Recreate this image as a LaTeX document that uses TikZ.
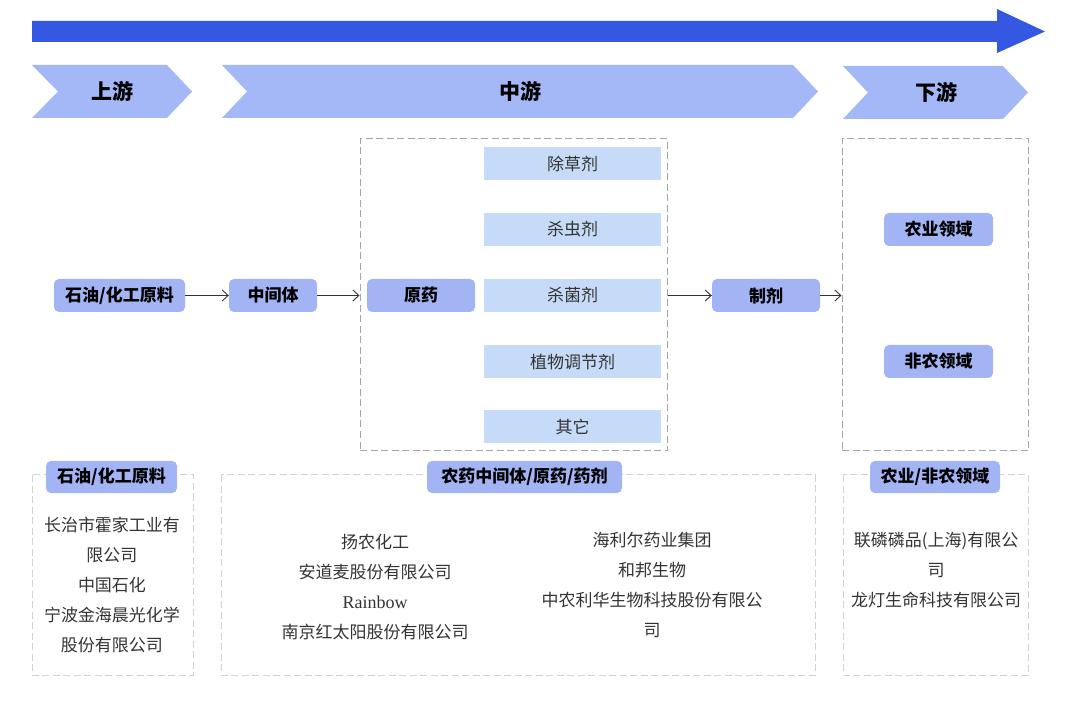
\documentclass[tikz,border=0pt]{standalone}
\usepackage{fontspec}
\usepackage{tikz}
\usetikzlibrary{arrows.meta,positioning,shapes,calc}
\newfontfamily\cjk{Noto Sans CJK SC}
\newfontfamily\tms{Liberation Serif}
\definecolor{barblue}{HTML}{3558E2}
\definecolor{chevblue}{HTML}{A4B7F6}
\definecolor{nodeblue}{HTML}{A3B4F4}
\definecolor{catblue}{HTML}{C6DBF7}
\definecolor{txtgray}{HTML}{333333}
\tikzset{
  stage/.style={fill=nodeblue, rounded corners=5pt, minimum height=33pt, inner sep=0pt,
    font=\cjk\bfseries\fontsize{17}{19}\selectfont, text=black},
  catbox/.style={fill=catblue, minimum width=177pt, minimum height=33pt, inner sep=0pt,
    font=\cjk\fontsize{17}{19}\selectfont, text=txtgray},
  groupbox/.style={draw=gray!70, dash pattern=on 7pt off 3.5pt, line width=1pt, inner sep=0pt},
  listbox/.style={draw=gray!35, dash pattern=on 7pt off 3.5pt, line width=1pt},
  listtext/.style={align=center, font=\cjk\fontsize{17}{30}\selectfont, text=txtgray},
  flow/.style={draw=black!80, line width=0.9pt, -{Straight Barb[length=6pt,width=11pt]}}
}
\begin{document}
\begin{tikzpicture}[x=1pt,y=-1pt]
\useasboundingbox (0,0) rectangle (1080,711);

% Direction arrow
\fill[barblue] (32,21) -- (997,21) -- (997,9) -- (1045,31.5) -- (997,53) -- (997,42) -- (32,42) -- cycle;

% Chevrons
\fill[chevblue] (32,65) -- (167,65) -- (192,91.5) -- (167,118) -- (32,118) -- (58,91.5) -- cycle;
\fill[chevblue] (222,65) -- (793,65) -- (818,91.5) -- (793,118) -- (222,118) -- (247,91.5) -- cycle;
\fill[chevblue] (843,66) -- (1003,66) -- (1028,92.5) -- (1003,119) -- (843,119) -- (868,92.5) -- cycle;
\node[font=\cjk\bfseries\fontsize{21}{23}\selectfont] (up) at (112,91.5) {上游};
\node[font=\cjk\bfseries\fontsize{21}{23}\selectfont] (middle) at (520,91.5) {中游};
\node[font=\cjk\bfseries\fontsize{21}{23}\selectfont] (down) at (936,92.5) {下游};

% Dashed groups
\node[groupbox, minimum width=307pt, minimum height=312pt] (midbox) at (513.5,295) {};
\node[groupbox, minimum width=186pt, minimum height=312pt] (downbox) at (935,295) {};

% Chain
\node[stage, minimum width=131pt] (raw) at (119.5,295.5) {石油/化工原料};
\node[stage, minimum width=88pt] (inter) at (273,295.5) {中间体};
\node[stage, minimum width=108pt] (tech) at (421,295.5) {原药};
\node[stage, minimum width=108pt] (formu) at (766,295.5) {制剂};
\node[stage, minimum width=109pt] (agri) at (938.5,229.5) {农业领域};
\node[stage, minimum width=109pt] (nonagri) at (938.5,361.5) {非农领域};

% Kinds of technical
\node[catbox] (herb) at (572.5,163.5) {除草剂};
\node[catbox] (insect) at (572.5,229.5) {杀虫剂};
\node[catbox] (fungi) at (572.5,295.5) {杀菌剂};
\node[catbox] (growth) at (572.5,361.5) {植物调节剂};
\node[catbox] (other) at (572.5,426.5) {其它};

\draw[flow] (raw) -- (inter);
\draw[flow] (inter) -- (midbox.west |- inter);
\draw[flow] (midbox.east |- formu) -- (formu);
\draw[flow] (formu) -- (downbox.west |- formu);

% Companies
\draw[listbox] (32,475) rectangle (193,675);
\draw[listbox] (221,475) rectangle (815,675);
\draw[listbox] (843,475) rectangle (1028,675);
\node[stage, minimum width=131pt, minimum height=32pt] (rawlab) at (111.5,477) {石油/化工原料};
\node[stage, minimum width=195pt, minimum height=32pt] (midlab) at (524.5,477) {农药中间体/原药/药剂};
\node[stage, minimum width=130pt, minimum height=32pt] (downlab) at (935,477) {农业/非农领域};

\node[listtext] (rawco) at (112,585) {长治市霍家工业有\\限公司\\中国石化\\宁波金海晨光化学\\股份有限公司};
\node[listtext] (midcoa) at (375,587.5) {扬农化工\\安道麦股份有限公司\\{\tms\fontsize{18}{30}\selectfont Rainbow}\\南京红太阳股份有限公司};
\node[listtext] (midcob) at (652,585) {海利尔药业集团\\和邦生物\\中农利华生物科技股份有限公\\司};
\node[listtext] (downco) at (936,570) {联磷磷品(上海)有限公\\司\\龙灯生命科技有限公司};
\end{tikzpicture}
\end{document}
